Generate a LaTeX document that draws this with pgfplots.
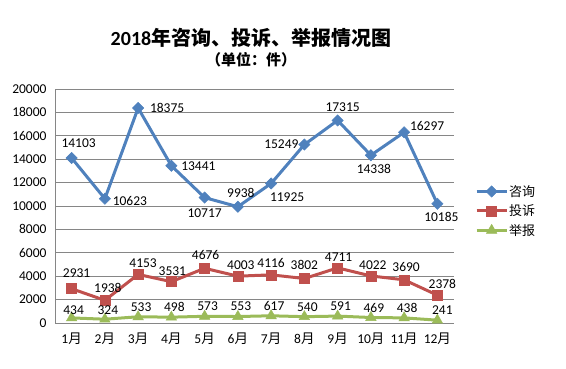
\documentclass[border=0pt]{standalone}
\usepackage{fontspec}
\setmainfont{Carlito}
\newfontfamily\cjk{Noto Sans CJK SC}
\usepackage{pgfplots}
\pgfplotsset{compat=1.18}
\definecolor{cA}{HTML}{4F81BD}
\definecolor{cB}{HTML}{C0504D}
\definecolor{cC}{HTML}{9BBB59}
\definecolor{gridc}{HTML}{868686}
\pgfplotstableread{
x y lab dx dy
0 14103 14103 7 15
1 10623 10623 25 -2
2 18375 18375 29 0
3 13441 13441 27 0
4 10717 10717 0 -16
5 9938 9938 3 14
6 11925 11925 16 -14
7 15249 15249 -23 0
8 17315 17315 5 13
9 14338 14338 3 -14
10 16297 16297 23 6
11 10185 10185 4 -13
}\zixun
\pgfplotstableread{
x y lab dx dy
0 2931 2931 5 16
1 1938 1938 3 12
2 4153 4153 5 11
3 3531 3531 1 11
4 4676 4676 1 13
5 4003 4003 3 11
6 4116 4116 0 12
7 3802 3802 0 14
8 4711 4711 1 11
9 4022 4022 2 11
10 3690 3690 2 13
11 2378 2378 5 11
}\tousu
\pgfplotstableread{
x y lab dx dy
0 434 434 2 8
1 324 324 3 9
2 533 533 3 10
3 498 498 3 10
4 573 573 3 10
5 553 553 3 10
6 617 617 3 10
7 540 540 3 10
8 591 591 3 10
9 469 469 3 10
10 438 438 3 10
11 241 241 5 10
}\jubao
\begin{document}
\begin{tikzpicture}
\path[use as bounding box] (0,0) rectangle (566bp,369bp);
\node[font=\fontsize{20bp}{22bp}\selectfont\bfseries] at (251bp,331bp) {2018\cjk\bfseries 年咨询、投诉、举报情况图};
\node[font=\fontsize{15bp}{16bp}\selectfont\bfseries\cjk] at (251bp,309bp) {（单位：件）};
\begin{axis}[
  at={(55bp,46bp)}, anchor=south west,
  scale only axis, width=399bp, height=234bp,
  xmin=-0.5, xmax=11.5, ymin=0, ymax=20000,
  xtick={0,...,11},
  xticklabels={1{\cjk 月},2{\cjk 月},3{\cjk 月},4{\cjk 月},5{\cjk 月},6{\cjk 月},7{\cjk 月},8{\cjk 月},9{\cjk 月},10{\cjk 月},11{\cjk 月},12{\cjk 月}},
  ytick={0,2000,...,20000},
  scaled y ticks=false,
  yticklabel style={/pgf/number format/assume math mode=true,/pgf/number format/1000 sep={},/pgf/number format/fixed, xshift=-5bp},
  xticklabel style={yshift=-6bp},
  tick label style={font=\fontsize{13.5bp}{15bp}\selectfont},
  ymajorgrids, grid style={gridc, line width=0.8bp},
  axis lines*=left, axis line style={gridc, line width=0.8bp},
  tick style={draw=none},
  legend style={at={(1.045,0.479)}, anchor=west, draw=none, fill=none,
    font=\fontsize{13bp}{14bp}\selectfont\cjk, row sep=5bp, nodes={inner sep=1bp}},
  legend cell align=left,
  legend image code/.code={\draw[mark repeat=2,mark phase=2,#1] plot coordinates {(0bp,0bp) (15bp,0bp) (30bp,0bp)};},
  nodes near coords={\pgfplotspointmeta},
  point meta=explicit symbolic,
  visualization depends on={\thisrow{dx} \as \mydx},
  visualization depends on={\thisrow{dy} \as \mydy},
  nodes near coords style={anchor=center, xshift=\mydx bp, yshift=\mydy bp, font=\fontsize{13.5bp}{15bp}\selectfont, text=black, inner sep=0pt},
]
\addplot[cA, line width=3bp, mark=square*, mark options={rotate=45, mark size=4bp, line width=0.5bp, fill=cA}] table[x=x,y=y,meta=lab] {\zixun};
\addlegendentry{咨询}
\addplot[cB, line width=3bp, mark=square*, mark options={mark size=5bp, line width=0.5bp, fill=cB}] table[x=x,y=y,meta=lab] {\tousu};
\addlegendentry{投诉}
\addplot[cC, line width=3bp, mark=triangle*, mark options={mark size=6bp, line width=0.5bp, fill=cC}] table[x=x,y=y,meta=lab] {\jubao};
\addlegendentry{举报}
\end{axis}
\end{tikzpicture}
\end{document}
